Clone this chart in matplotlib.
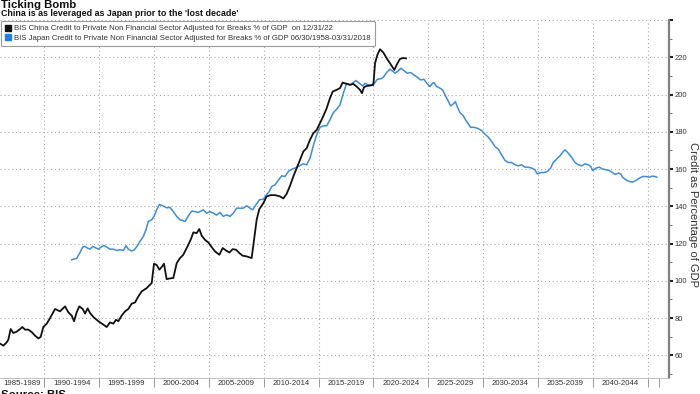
import matplotlib
matplotlib.use('Agg')
import matplotlib.pyplot as plt
import matplotlib.ticker as ticker
from matplotlib.lines import Line2D

plt.rcParams['font.family'] = ['Liberation Sans', 'DejaVu Sans']

# values (x = position on shared year axis, y = credit % of GDP)
china_x = [1985.96, 1986.27, 1986.57, 1986.72, 1986.93, 1987.18, 1987.48, 1987.79, 1988.00, 1988.24,
           1988.54, 1988.85, 1989.15, 1989.46, 1989.67, 1989.91, 1990.22, 1990.52, 1990.98, 1991.43,
           1991.89, 1992.19, 1992.50, 1992.71, 1992.95, 1993.19, 1993.50, 1993.71, 1993.95, 1994.17,
           1994.47, 1994.93, 1995.38, 1995.69, 1995.99, 1996.29, 1996.54, 1996.75, 1997.05, 1997.36,
           1997.66, 1997.96, 1998.27, 1998.57, 1998.88, 1999.33, 1999.79, 2000.00, 2000.24, 2000.49,
           2000.70, 2000.91, 2001.15, 2001.46, 2001.76, 2002.07, 2002.37, 2002.67, 2002.98, 2003.34,
           2003.59, 2003.89, 2004.13, 2004.35, 2004.65, 2004.95, 2005.26, 2005.56, 2005.96, 2006.26,
           2006.56, 2006.87, 2007.17, 2007.48, 2007.78, 2008.08, 2008.45, 2008.90, 2009.12, 2009.36,
           2009.60, 2009.97, 2010.27, 2010.64, 2011.03, 2011.49, 2011.79, 2012.09, 2012.40, 2012.70,
           2013.01, 2013.31, 2013.61, 2013.92, 2014.22, 2014.52, 2014.83, 2015.13, 2015.44, 2015.74,
           2016.04, 2016.29, 2016.65, 2016.95, 2017.20, 2017.56, 2017.87, 2018.17, 2018.47, 2018.78,
           2018.96, 2019.14, 2019.39, 2019.69, 2020.00, 2020.15, 2020.36, 2020.60, 2020.91, 2021.21,
           2021.51, 2021.91, 2022.12, 2022.42, 2022.73, 2022.97]
china_y = [66.3, 65.2, 67.0, 68.4, 74.1, 72.0, 72.7, 74.1, 75.2, 73.8,
           73.8, 72.5, 70.6, 69.1, 69.9, 75.2, 77.0, 80.0, 84.9, 83.6,
           86.3, 83.1, 81.3, 78.3, 83.1, 86.3, 84.9, 82.4, 85.2, 82.7,
           80.6, 78.3, 76.5, 75.2, 77.7, 77.0, 79.1, 78.3, 81.3, 83.6,
           84.9, 87.7, 88.4, 91.6, 94.3, 96.1, 98.8, 109.2, 108.5, 106.0,
           107.4, 109.2, 100.9, 101.3, 101.5, 109.5, 112.2, 114.0, 117.6, 122.0,
           126.0, 125.6, 127.8, 124.2, 122.0, 120.6, 118.1, 115.8, 114.0, 117.6,
           116.3, 115.2, 117.0, 116.7, 114.9, 113.5, 113.1, 112.2, 122.0, 132.8,
           138.5, 141.7, 145.3, 146.0, 146.0, 145.3, 144.2, 146.7, 151.0, 156.0,
           160.5, 164.9, 169.4, 171.2, 175.7, 179.2, 181.0, 184.6, 188.5, 192.6,
           198.0, 201.6, 202.5, 203.4, 206.4, 205.7, 205.2, 205.7, 204.3, 202.5,
           200.7, 203.9, 204.6, 204.8, 205.2, 216.8, 221.2, 224.3, 222.5, 219.5,
           216.8, 213.2, 215.9, 219.1, 219.6, 219.4]

japan_x = [1992.50, 1992.71, 1992.95, 1993.25, 1993.50, 1993.71, 1993.92, 1994.17, 1994.41, 1994.68,
           1994.93, 1995.17, 1995.44, 1995.69, 1995.99, 1996.29, 1996.60, 1996.90, 1997.21, 1997.45,
           1997.66, 1997.96, 1998.21, 1998.48, 1998.72, 1999.03, 1999.27, 1999.48, 1999.79, 2000.00,
           2000.24, 2000.49, 2000.79, 2001.15, 2001.46, 2001.76, 2002.07, 2002.37, 2002.83, 2003.13,
           2003.43, 2003.74, 2004.04, 2004.50, 2004.80, 2005.11, 2005.41, 2005.71, 2006.02, 2006.32,
           2006.62, 2006.93, 2007.23, 2007.54, 2007.84, 2008.14, 2008.45, 2008.75, 2008.99, 2009.30,
           2009.60, 2009.97, 2010.27, 2010.51, 2010.73, 2011.03, 2011.33, 2011.64, 2011.94, 2012.25,
           2012.55, 2012.85, 2013.16, 2013.46, 2013.61, 2013.92, 2014.22, 2014.52, 2014.83, 2015.13,
           2015.44, 2015.74, 2016.04, 2016.35, 2016.65, 2016.95, 2017.26, 2017.56, 2017.87, 2018.17,
           2018.41, 2018.72, 2019.02, 2019.23, 2019.54, 2019.84, 2020.15, 2020.36, 2020.66, 2020.91,
           2021.21, 2021.51, 2021.82, 2021.97, 2022.27, 2022.52, 2022.79, 2023.09, 2023.40, 2023.70,
           2024.00, 2024.31, 2024.61, 2024.92, 2025.16, 2025.40, 2025.52, 2025.77, 2026.07, 2026.31,
           2026.53, 2026.77, 2027.04, 2027.29, 2027.47, 2027.65, 2027.89, 2028.20, 2028.50, 2028.87,
           2029.17, 2029.47, 2029.87, 2030.17, 2030.48, 2030.78, 2031.08, 2031.39, 2031.69, 2032.00,
           2032.30, 2032.60, 2032.91, 2033.21, 2033.52, 2033.82, 2034.12, 2034.43, 2034.73, 2034.94,
           2035.25, 2035.55, 2035.86, 2036.16, 2036.40, 2036.71, 2037.01, 2037.31, 2037.47, 2037.77,
           2038.07, 2038.38, 2038.68, 2038.98, 2039.29, 2039.59, 2039.81, 2039.99, 2040.29, 2040.60,
           2040.90, 2041.20, 2041.51, 2041.81, 2042.02, 2042.33, 2042.54, 2042.72, 2043.03, 2043.33,
           2043.63, 2043.94, 2044.24, 2044.55, 2044.85, 2045.15, 2045.40, 2045.65, 2045.85]
japan_y = [111.3, 111.7, 112.0, 115.2, 118.1, 118.5, 117.6, 117.0, 118.5, 117.7,
           117.0, 118.1, 119.0, 118.1, 117.0, 117.0, 116.3, 116.7, 116.3, 118.8,
           117.0, 116.0, 116.7, 118.8, 121.1, 123.9, 127.4, 131.9, 132.8, 134.6,
           138.1, 141.0, 140.3, 139.2, 139.4, 137.2, 134.6, 132.8, 131.9, 134.9,
           137.4, 137.2, 136.7, 138.1, 136.3, 137.2, 136.3, 135.3, 136.7, 134.6,
           135.4, 134.6, 136.3, 139.0, 139.0, 139.0, 140.3, 139.0, 138.1, 140.8,
           143.5, 143.8, 146.2, 148.0, 150.6, 151.5, 153.9, 156.4, 156.0, 158.7,
           159.9, 160.5, 161.4, 162.3, 162.8, 162.3, 165.8, 172.4, 178.3, 182.4,
           183.2, 183.2, 186.4, 190.3, 192.1, 194.4, 200.7, 206.0, 205.2, 206.4,
           207.5, 206.0, 204.6, 206.0, 205.2, 205.2, 206.4, 208.2, 208.4, 209.3,
           211.8, 213.6, 212.3, 211.4, 212.8, 214.1, 212.8, 211.4, 211.8, 210.5,
           209.3, 207.8, 208.2, 205.7, 204.3, 206.1, 206.4, 204.3, 203.4, 202.5,
           199.8, 197.1, 193.9, 195.0, 196.2, 193.5, 190.3, 188.5, 185.5, 182.4,
           182.4, 181.9, 180.7, 178.7, 177.1, 174.8, 172.1, 170.7, 167.6, 164.6,
           163.5, 163.5, 162.3, 161.7, 162.3, 161.0, 161.0, 160.5, 159.6, 157.4,
           158.1, 158.1, 158.7, 160.5, 163.5, 165.3, 167.1, 169.4, 170.3, 168.5,
           166.4, 163.5, 162.3, 161.7, 162.8, 162.3, 161.4, 159.2, 160.5, 161.0,
           160.0, 159.6, 159.2, 158.1, 157.1, 157.8, 157.4, 155.6, 154.2, 153.3,
           153.0, 153.9, 155.1, 156.0, 156.0, 155.6, 156.2, 156.0, 155.6]

band_starts = list(range(1985, 2045, 5))
band_labels = [f'{y}-{y + 4}' for y in band_starts]

china_label = 'BIS China Credit to Private Non Financial Sector Adjusted for Breaks % of GDP  on 12/31/22'
japan_label = 'BIS Japan Credit to Private Non Financial Sector Adjusted for Breaks % of GDP 06/30/1958-03/31/2018'

W, H = 700, 394
fig = plt.figure(figsize=(W / 100, H / 100), dpi=100)
ax = fig.add_axes([0, 1 - 377.7 / H, 669 / W, (377.7 - 20) / H])

ax.plot(japan_x, japan_y, color='#3d8ed8', lw=1.1, zorder=3)
ax.plot(china_x, china_y, color='#111111', lw=1.3, zorder=4)

ax.set_xlim(1985.96, 2046.95)
ax.set_ylim(48, 240)

# x axis: band boundaries as ticks, labels in the middle of each band
ax.xaxis.set_major_locator(ticker.FixedLocator(list(range(1990, 2046, 5)) + [2046]))
ax.xaxis.set_major_formatter(ticker.NullFormatter())
centers = [b + 2.5 for b in band_starts]
centers[0] = 1988.0
ax.xaxis.set_minor_locator(ticker.FixedLocator(centers))
ax.xaxis.set_minor_formatter(ticker.FixedFormatter(band_labels))
ax.tick_params(axis='x', which='major', length=6.5, width=0.7, color='#9a9a9a', direction='out')
ax.tick_params(axis='x', which='minor', length=0, labelsize=5.6, labelcolor='#333333', pad=1.5)

# y axis on the right
ax.yaxis.tick_right()
ax.yaxis.set_major_locator(ticker.MultipleLocator(20))
ax.yaxis.set_minor_locator(ticker.MultipleLocator(10))
ax.yaxis.set_major_formatter(ticker.FuncFormatter(lambda v, p: '' if v >= 240 or v < 60 else f'{v:.0f}'))
ax.tick_params(axis='y', which='major', length=3, width=1.5, color='#222222', labelsize=5.5,
               labelcolor='#333333', pad=1)
ax.tick_params(axis='y', which='minor', length=2, width=0.7, color='#777777')
ax.text(693.5 / 669, 0.455, 'Credit as Percentage of GDP', transform=ax.transAxes, rotation=270,
        ha='center', va='center', fontsize=8.0, color='#333333')

ax.grid(True, which='major', linestyle=(0, (1, 2.5)), color='#a8a8a8', lw=0.8)
ax.xaxis.get_gridlines()[-1].set_visible(False)
ax.set_axisbelow(True)
for s in ['left', 'top']:
    ax.spines[s].set_visible(False)
ax.spines['right'].set_color('#808080')
ax.spines['right'].set_linewidth(1.6)
ax.spines['bottom'].set_color('#c0c0c0')
ax.spines['bottom'].set_linewidth(0.7)

handles = [Line2D([], [], marker='s', ls='', color='#111111', markersize=4.8),
           Line2D([], [], marker='s', ls='', color='#1e7fe6', markersize=4.8)]
leg = ax.legend(handles, [china_label, japan_label], loc='upper left',
                bbox_to_anchor=(1 / W, 1 - 20.7 / H), bbox_transform=fig.transFigure,
                fontsize=5.6, frameon=True, fancybox=True, handlelength=0.8, handletextpad=0.3,
                borderpad=0.55, labelspacing=0.3, borderaxespad=0)
for t in leg.get_texts():
    t.set_color('#333333')
leg.get_frame().set_edgecolor('#9a9a9a')
leg.get_frame().set_linewidth(0.8)
leg.get_frame().set_alpha(1)

fig.text(1 / W, 1 - 7.5 / H, 'Ticking Bomb', fontsize=8.2, fontweight='bold', va='baseline', color='#111111')
fig.text(1 / W, 1 - 16 / H, "China is as leveraged as Japan prior to the 'lost decade'",
         fontsize=6.4, fontweight='bold', va='baseline', color='#111111')
fig.text(1 / W, 1 - 389.5 / H, 'Source: BIS', fontsize=8.2, fontweight='bold', va='top', color='#111111')

fig.savefig('out.png', dpi=100)
